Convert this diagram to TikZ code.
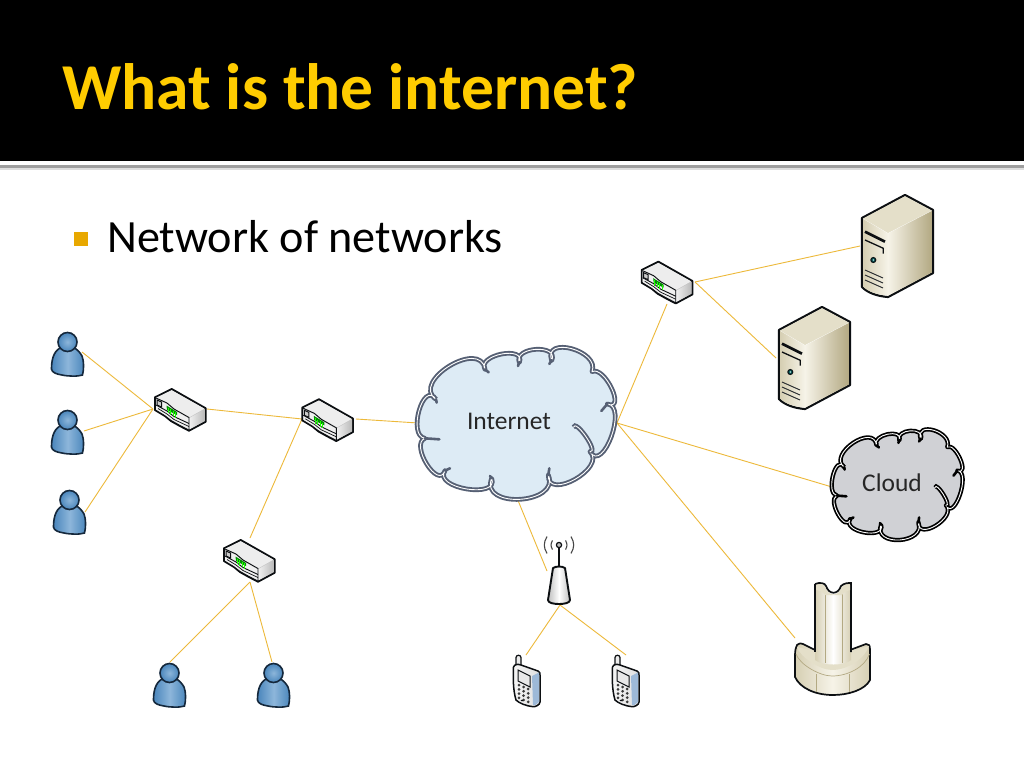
\documentclass[tikz,border=0pt]{standalone}
\usepackage{fontspec}
\setmainfont{Carlito}
\definecolor{linkc}{HTML}{EDB93A}
\definecolor{titlec}{HTML}{FFCC00}
\definecolor{bulletc}{HTML}{E8A800}
\definecolor{inkc}{HTML}{0C0F12}
\definecolor{netline}{HTML}{566074}
\definecolor{netfill}{HTML}{DDEBF5}
\definecolor{grayfill}{HTML}{D0D1D5}
\definecolor{persA}{HTML}{4A86BC}
\definecolor{persB}{HTML}{8DB6DA}
\definecolor{persline}{HTML}{15283C}
\definecolor{creamA}{HTML}{E4DFC9}
\definecolor{creamB}{HTML}{F6F3E8}
\definecolor{creamC}{HTML}{B3A983}
\definecolor{creamD}{HTML}{D6CFB3}
\definecolor{phoneB}{HTML}{9DB9D8}
\def\lobe(#1,#2)(#3,#4)(#5,#6){.. controls ({#1+1.333*(#3-(#1+#5)/2)-0.22*(#5-#1)},{#2+1.333*(#4-(#2+#6)/2)-0.22*(#6-#2)}) and ({#5+1.333*(#3-(#1+#5)/2)+0.22*(#5-#1)},{#6+1.333*(#4-(#2+#6)/2)+0.22*(#6-#2)}) .. (#5,#6) }
\tikzset{
  link/.style={draw=linkc,line width=0.9pt},
  inkline/.style={draw=inkc,line width=1.9pt,line join=round},
  thinink/.style={draw=inkc,line width=0.7pt},
  pics/router/.style={code={
    \path[inkline,fill=gray!45] (2,9.3)--(18.7,1)--(52.7,20.3)--(52.7,33.7)--(36,42.7)--(27,38)--(18,33)--(12,28)--(2,22)--cycle;
    \path[fill=gray!14] (3,9.8)--(18.7,2.2)--(51.3,20.6)--(36,29.5)--(27,25)--(21,20)--(14,15)--cycle;
    \path[left color=gray!12,right color=gray!55] (36.5,30)--(51.8,21.3)--(51.8,33)--(36.5,41.3)--cycle;
    \path[fill=gray!12] (3,11)--(14,16)--(21,22)--(36,30.5)--(36,41)--(27,36.5)--(18,31.5)--(12,27)--(3,21.5)--cycle;
    \draw[thinink,line width=.9pt] (3,17)--(14,23)--(21,28.5)--(36,35.5);
    \draw[thinink] (5,20.5)--(14,26)--(21,31.5)--(36,38.5);
    \draw[thinink,line width=.9pt] (3,10)--(14,15)--(21,21)--(36,29.5)--(36,42);
    \draw[thinink,line width=1pt,fill=gray!40] (4,12)--(8.5,14)--(8.5,19)--(4,17)--cycle;
    \fill[green!55!black] (13.5,17.5)--(20,21.5)--(24,24)--(24,27)--(14,22)--cycle;
    \foreach \q in {15,17.5,20,22.5}{\draw[green!85!lime,line width=0.9pt] (\q,{18.5+(\q-13)*.6})--(\q,{24+(\q-13)*.6});}
  }},
  pics/server/.style={code={
    \path[inkline,line width=2.2pt,fill=white] (2,24)--(45,1)--(73,16)--(73,79)--(28,103) .. controls (17,102) and (8,99) .. (2,93)--cycle;
    \path[fill=creamA] (3,24.5)--(45,2.2)--(71.8,16.5)--(28,39)--cycle;
    \path[left color=creamB,right color=creamC] (28,39.5)--(71.8,17)--(71.8,78.5)--(28,101.8)--cycle;
    \path[left color=creamD,right color=creamB] (3.1,25)--(28,39.5)--(28,101.8) .. controls (17,100.8) and (8,97.8) .. (3.1,92.5)--cycle;
    \draw[draw=inkc,line width=2.6pt] (5,37.7)--(25,47.7);
    \draw[draw=inkc,line width=1.3pt] (5,46)--(23.3,54.3)--(23.3,59.5);
    \draw[thinink,line width=1pt,fill=teal!70!black] (13.3,66) circle (2.5);
    \fill[white] (13.3,66) circle (.7);
    \foreach \q in {0,5,10}{\draw[draw=inkc!85,line width=1pt] (5,76+\q)--(23,84+\q);}
  }},
  pics/person/.style={code={
    \path[draw=persline,line width=1.6pt,left color=persA,right color=persA,middle color=persB] (9,17) .. controls (2,21) and (0.5,30) .. (0.5,38) .. controls (1,41.5) and (5,43) .. (11,44) .. controls (18,45.5) and (27,45.5) .. (31.5,44) .. controls (33,38) and (33,30) .. (31,25) .. controls (29,21) and (26,19) .. (24,17) -- cycle;
    \path[draw=persline,line width=1.6pt,inner color=persB,outer color=persA] (16.5,11) circle (9.5);
  }},
  pics/phone/.style={code={
    \path[draw=inkc,line width=1.2pt,fill=gray!15] (3,12)--(3,2.5) .. controls (3,-0.5) and (8,-0.5) .. (8,2.5)--(8,12)--cycle;
    \path[draw=inkc,line width=1.5pt,line join=round,left color=gray!8,right color=gray!25] (0.5,12) .. controls (1.5,9) and (5,9) .. (8,10) -- (25,16) .. controls (27,17) and (27,18) .. (27,20) -- (27,47) .. controls (27,50) and (22,52) .. (20,51.7) .. controls (13,51) and (6,48) .. (3,45) .. controls (0,35) and (0,22) .. (0.5,12)--cycle;
    \path[draw=inkc,line width=1pt,fill=gray!18] (5,15)--(17,21)--(17,32)--(5,26)--cycle;
    \fill[phoneB] (19,21)--(26,17.5)--(26,47)--(22,50.3)--(20,50)--cycle;
    \foreach \i in {0,1,2}{\foreach \j in {0,1,2,3}{
      \fill[gray!45!black] ({6+\i*4.6},{30+\i*2+\j*4.3}) circle (1.5);
    }}
    \fill[inkc] (9,45.5) ellipse (1.4 and .9);
  }},
  pics/tower/.style={code={
    \draw[inkc,line width=1.8pt] (0,0)--(0,22);
    \draw[inkc,line width=1.2pt,fill=gray!50] (0,0) circle (2.6);
    \foreach \r in {6.5,12}{
      \draw[gray!55!black,line width=1.1pt] (-\r,-\r*.7) .. controls (-\r*1.3,-\r*.2) and (-\r*1.3,\r*.2) .. (-\r,\r*.7);
      \draw[gray!55!black,line width=1.1pt] (\r,-\r*.7) .. controls (\r*1.3,-\r*.2) and (\r*1.3,\r*.2) .. (\r,\r*.7);
    }
    \path[draw=inkc,line width=1.9pt,line join=round,left color=gray!50,right color=gray!50,middle color=white] (-6,23) .. controls (-3,21) and (3,21) .. (6,23) -- (11,55) .. controls (11,58) and (5,59) .. (0,59) .. controls (-5,59) and (-11,58) .. (-11,55) -- cycle;
  }},
  pics/netcloud/.style n args={3}{code={
    \path[draw=#2,fill=#1,line width=#3,double=white,double distance=0.9pt,line join=round]
      (78,178) \lobe(78,178)(118,78)(225,88)
      \lobe(225,88)(275,42)(328,68)
      \lobe(328,68)(378,28)(425,62)
      \lobe(425,62)(485,26)(546,95)
      \lobe(546,95)(605,145)(592,192)
      \lobe(592,192)(604,290)(540,335)
      \lobe(540,335)(495,418)(415,405)
      \lobe(415,405)(330,478)(245,415)
      \lobe(245,415)(170,447)(105,392)
      \lobe(105,392)(50,372)(45,295)
      \lobe(45,295)(27,212)(78,178);
    \path[draw=#2,line width=#3,double=white,double distance=0.9pt]
      (540,335) \lobe(540,335)(528,290)(490,262);
    \draw[#2,line width=2.6pt,line cap=round] (225,88)--(236,97);
    \draw[#2,line width=2.6pt,line cap=round] (328,66)--(324,78);
    \draw[#2,line width=2.6pt,line cap=round] (425,60)--(418,72);
    \draw[#2,line width=2.6pt,line cap=round] (592,192)--(574,213);
    \draw[#2,line width=2.6pt,line cap=round] (415,405)--(418,385);
    \draw[#2,line width=2.6pt,line cap=round] (245,415)--(240,408);
    \draw[#2,line width=2.6pt,line cap=round] (105,392)--(120,385);
    \draw[#2,line width=2.6pt,line cap=round] (45,295)--(88,298);
    \draw[#2,line width=2.6pt,line cap=round] (78,178)--(80,188);
  }},
  titletext/.style={text=titlec,font=\fontsize{65.5}{70}\selectfont\bfseries,anchor=base west,inner sep=0pt},
  bodytext/.style={text=black,font=\fontsize{46.2}{50}\selectfont,anchor=base west,inner sep=0pt},
  cloudtext/.style={text=black!85,font=\fontsize{25.5}{28}\selectfont,inner sep=0pt},
}
\begin{document}
\begin{tikzpicture}[x=1pt,y=-1pt]
\useasboundingbox (0,0) rectangle (1024,768);
\fill[white] (0,0) rectangle (1024,768);
\fill[black] (0,0) rectangle (1024,160.5);
\fill[gray!75] (0,165) rectangle (1024,168);
\fill[gray!25] (0,168) rectangle (1024,170);
\node[titletext] (title) at (62,109) {What is the internet?};
\node[fill=bulletc,minimum size=14pt,inner sep=0pt] (bullet) at (81,238.5) {};
\node[bodytext] (body) at (107,252) {Network of networks};

% connector ends
\coordinate (u1) at (82,352); \coordinate (u2) at (84,431); \coordinate (u3) at (85,512);
\coordinate (r1w) at (153,409); \coordinate (r1e) at (207,409);
\coordinate (r2w) at (302,419); \coordinate (r2e) at (356,419);
\coordinate (r3n) at (250,538); \coordinate (r3s) at (250,582);
\coordinate (r4s) at (667,304); \coordinate (r4e) at (695,282);
\coordinate (s1) at (860,246); \coordinate (s2) at (776,358);
\coordinate (inetw) at (418,423); \coordinate (inete) at (617,423); \coordinate (inets) at (517,498);
\coordinate (cl) at (832,487); \coordinate (dish) at (795,638);
\coordinate (tw) at (547,571); \coordinate (ts) at (560,605);
\coordinate (p1) at (526,655); \coordinate (p2) at (626,655);
\coordinate (u4) at (170,662); \coordinate (u5) at (272,662);

\foreach \a/\b in {u1/r1w,u2/r1w,u3/r1w,r1e/r2w,r2w/r3n,r2e/inetw,inete/r4s,r4e/s1,r4e/s2,inete/cl,inete/dish,inets/tw,ts/p1,ts/p2,r3s/u4,r3s/u5}
  \draw[link] (\a)--(\b);

\pic at (410,340) [scale=0.3333] {netcloud={netfill}{netline}{1.9pt}};
\pic at (827,424) [xscale=0.2203,yscale=0.2427] {netcloud={grayfill}{black}{1.7pt}};
\node[cloudtext] (inet) at (509,421) {Internet};
\node[cloudtext] (cloud) at (892,483) {Cloud};

\pic at (153,388) {router};
\pic at (300.3,398.3) {router};
\pic at (222,539) {router};
\pic at (639.7,260.7) {router};
\pic at (860,194) {server};
\pic at (777,306) {server};
\pic at (51,331) {person};
\pic at (51,409) {person};
\pic at (53,489) {person};
\pic at (153,662) {person};
\pic at (257,662) {person};
\pic at (513,655) {phone};
\pic at (612,655) {phone};
\pic at (559,545) {tower};

% dish mount
\path[draw=inkc,line width=1.7pt,line join=round,left color=creamD,right color=creamD,middle color=creamB] (797,645) .. controls (800,643) and (801,643) .. (803,644)
  -- (815,650) -- (850,650) -- (866,644) .. controls (869,644) and (870,645) .. (870,650)
  -- (870,680) .. controls (865,690) and (848,695) .. (833,695) .. controls (815,695) and (800,688) .. (795,677) -- (795,655) .. controls (795,650) and (796,647) .. (797,645) -- cycle;
\path[fill=creamA] (797,647) .. controls (800,657) and (820,670) .. (832,670) .. controls (848,670) and (865,658) .. (869,646) -- (851,651) -- (815,651) -- cycle;
\draw[creamC,line width=.7pt] (816,674)--(816,692) (849,674)--(849,692);
\draw[creamC,line width=.7pt] (796,654) .. controls (800,665) and (820,676) .. (832,676) .. controls (848,676) and (865,667) .. (869.5,654);
\path[left color=creamD,right color=creamD,middle color=white] (815,584) .. controls (820,582) and (825,583) .. (826,586) .. controls (829,595) and (838,595) .. (841,586) .. controls (844,583) and (848,583) .. (851,583) -- (851,660) .. controls (845,666) and (822,666) .. (815,660) -- cycle;
\draw[inkc,line width=1.7pt] (815,584) .. controls (820,582) and (825,583) .. (826,586) .. controls (829,595) and (838,595) .. (841,586) .. controls (844,583) and (848,583) .. (851,583) -- (851,652);
\draw[inkc,line width=1.7pt] (815,584) -- (815,652);
\draw[creamC,line width=.7pt] (825,594)--(825,663) (842,594)--(842,663);
\path[fill=creamA] (816,585) .. controls (820,584) and (824,584) .. (825,587) .. controls (829,597) and (838,597) .. (842,587) .. controls (844,584.5) and (847,584.5) .. (850,584.5) -- (850,590) .. controls (846,591) and (843,593) .. (842,595) -- (825,595) .. controls (823,592) and (819,590) .. (816,590) -- cycle;
\end{tikzpicture}
\end{document}
